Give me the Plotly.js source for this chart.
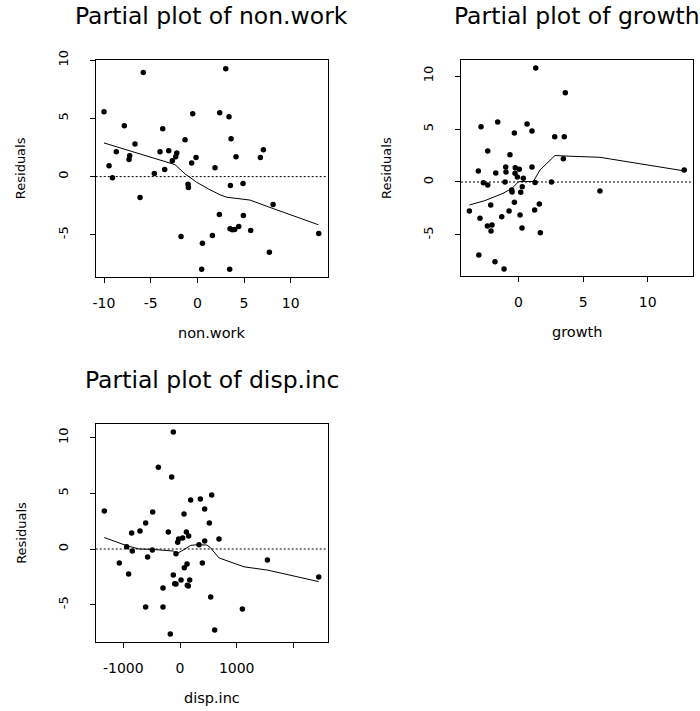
<!DOCTYPE html>
<html>
<head>
<meta charset="utf-8">
<script src="https://cdn.plot.ly/plotly-3.0.1.min.js"></script>
<style>html,body{margin:0;padding:0;background:#fff;}</style>
</head>
<body>
<div id="chart" style="width:700px;height:711px;"></div>
<script>
// ---- Panel 1: non.work ----
const nonworkX = [-10.0,-5.79,3.04,-7.82,-0.5,2.39,3.39,-3.71,-1.32,3.61,-6.68,-8.68,-7.25,-7.32,-4.0,-3.07,-2.21,-2.32,-2.68,-0.14,-0.61,4.14,7.07,6.75,1.89,-9.46,-9.1,-4.61,-3.5,-1.0,-0.96,3.54,4.89,-6.14,8.11,2.36,4.93,3.5,3.75,4.0,4.43,5.71,-1.75,1.61,0.54,13.0,7.71,0.46,3.46];
const nonworkY = [5.57,8.94,9.26,4.37,5.4,5.49,5.14,4.11,3.17,3.26,2.8,2.14,1.8,1.46,2.14,2.23,2.03,1.71,1.37,1.63,1.17,1.71,2.31,1.63,0.77,0.94,-0.09,0.26,0.6,-0.66,-0.94,-0.77,-0.6,-1.8,-2.4,-3.26,-3.34,-4.49,-4.57,-4.54,-4.29,-4.63,-5.14,-5.06,-5.74,-4.89,-6.51,-7.97,-7.97];
const nonworkFitX = [-10,-3.1,-2.4,-1.32,-0.07,1.18,2.43,3.14,4.21,5.64,7.43,12.96];
const nonworkFitY = [2.89,1.23,1.03,0.23,-0.49,-1.06,-1.57,-1.77,-1.85,-2.02,-2.55,-4.14];

// ---- Panel 2: growth ----
const growthX = [1.33,-2.9,-1.61,0.66,1.04,-0.32,2.8,-2.38,-0.66,-3.11,-0.99,-0.25,0.06,1.04,-1.76,-0.97,-0.27,-0.09,0.37,-2.72,-2.38,-1.04,1.28,2.55,0.29,-0.53,-0.5,0.17,-0.32,-2.15,1.61,-3.8,-0.73,1.25,0.12,-1.3,-2.98,-2.41,-2.05,-2.13,0.27,1.69,-3.07,-1.82,-1.12,3.62,3.54,3.47,6.3,12.82];
const growthY = [10.75,5.22,5.66,5.47,4.81,4.62,4.28,2.92,2.58,1.04,1.42,1.35,1.2,1.42,0.85,0.94,0.82,0.47,0.35,-0.08,-0.28,0.0,-0.05,0.0,-0.44,-0.75,-0.94,-0.97,-1.92,-2.17,-2.08,-2.74,-2.74,-2.64,-3.11,-3.27,-3.43,-4.15,-4.06,-4.62,-4.34,-4.78,-6.89,-7.52,-8.21,8.43,4.28,2.2,-0.85,1.13];
const growthFitX = [-3.8,-2.6,-1.2,-0.5,0.0,1.15,1.66,2.82,3.6,6.3,12.8];
const growthFitY = [-2.17,-1.76,-1.07,-0.6,0.03,0.05,1.13,2.5,2.45,2.33,1.05];

// ---- Panel 3: disp.inc ----
const dispincX = [-1335,-118,-382,-147,559,188,359,435,-482,71,-606,518,-706,-853,-206,112,153,47,-24,-41,688,435,335,-941,-841,-488,-71,-571,-1071,124,394,76,-906,-118,-94,-71,18,171,129,147,-300,1541,2447,541,-606,-300,1100,612,-171];
const dispincY = [3.41,10.51,7.34,6.47,4.85,4.4,4.49,3.59,3.32,3.14,2.34,2.34,1.62,1.44,1.53,1.53,1.17,0.99,0.9,0.6,0.9,0.72,0.39,0.21,-0.18,-0.09,-0.42,-0.72,-1.26,-1.35,-1.26,-1.68,-2.25,-2.34,-3.11,-3.14,-2.78,-2.78,-3.26,-3.32,-3.5,-0.99,-2.51,-4.31,-5.21,-5.21,-5.39,-7.28,-7.63];
const dispincFitX = [-1335,-940,-720,-500,-118,-60,30,190,300,470,530,688,1130,1550,2447];
const dispincFitY = [1.03,0.3,0.0,-0.03,-0.18,-0.4,-0.18,0.33,0.38,0.36,0.15,-0.8,-1.6,-1.9,-2.93];

// ---- tick labels ----
const ticksNonworkX = [-10,-5,0,5,10];
const ticksNonworkXText = ['-10','-5','0','5','10'];
const ticksGrowthX = [0,5,10];
const ticksGrowthXText = ['0','5','10'];
const ticksDispincX = [-1000,0,1000,2000];
const ticksDispincXText = ['-1000','0','1000',''];
const ticksResid = [-5,0,5,10];
const ticksResidText = ['-5','0','5','10'];

const titles = ['Partial plot of non.work','Partial plot of growth','Partial plot of disp.inc'];
const xLabels = ['non.work','growth','disp.inc'];
const yLabel = 'Residuals';

const W = 700, H = 711;
const FONT = 'DejaVu Sans, Liberation Sans, Arial, sans-serif';
const px = v => v / W;
const py = v => 1 - v / H;

// plot boxes in pixels [left, right, top, bottom]
const boxes = [
  [95.7, 327.7, 60, 277],
  [461, 693, 60, 276],
  [95.7, 327.7, 424, 642.3]
];

function pts(x, y, xa, ya) {
  return {x: x, y: y, xaxis: xa, yaxis: ya, type: 'scatter', mode: 'markers',
    marker: {symbol: 'circle', size: 5.5, color: '#000', line: {width: 0}}, hoverinfo: 'skip'};
}
function fit(x, y, xa, ya) {
  return {x: x, y: y, xaxis: xa, yaxis: ya, type: 'scatter', mode: 'lines',
    line: {color: '#000', width: 1}, hoverinfo: 'skip'};
}

const data = [
  fit(nonworkFitX, nonworkFitY, 'x', 'y'), pts(nonworkX, nonworkY, 'x', 'y'),
  fit(growthFitX, growthFitY, 'x2', 'y2'), pts(growthX, growthY, 'x2', 'y2'),
  fit(dispincFitX, dispincFitY, 'x3', 'y3'), pts(dispincX, dispincY, 'x3', 'y3')
];

function xax(i, range, tv, tt, anchor) {
  const b = boxes[i];
  return {domain: [px(b[0]), px(b[1])], range: range, anchor: anchor,
    tickmode: 'array', tickvals: tv, ticktext: tt, ticks: 'outside', ticklen: 5, tickwidth: 1, tickcolor: '#000',
    showline: true, mirror: true, linecolor: '#000', linewidth: 1,
    showgrid: false, zeroline: false, fixedrange: true, ticklabelstandoff: 8,
    tickfont: {family: FONT, size: 14, color: '#000'}};
}
function yax(i, range, anchor) {
  const b = boxes[i];
  return {domain: [py(b[3]), py(b[2])], range: range, anchor: anchor,
    tickmode: 'array', tickvals: ticksResid, ticktext: ticksResidText, ticks: 'outside', ticklen: 5, tickwidth: 1, tickcolor: '#000',
    tickangle: -90, showline: true, mirror: true, linecolor: '#000', linewidth: 1,
    showgrid: false, zeroline: false, fixedrange: true, ticklabelstandoff: 17,
    tickfont: {family: FONT, size: 13, color: '#000'}};
}

const annotations = [];
const shapes = [];
const axisIds = [['x','y'],['x2','y2'],['x3','y3']];
boxes.forEach((b, i) => {
  const cx = (b[0] + b[1]) / 2, cy = (b[2] + b[3]) / 2;
  annotations.push({text: titles[i], xref: 'paper', yref: 'paper', x: px(cx), y: py(b[2] - 44),
    xanchor: 'center', yanchor: 'middle', showarrow: false, font: {family: FONT, size: 23.5, color: '#000'}});
  annotations.push({text: xLabels[i], xref: 'paper', yref: 'paper', x: px(cx), y: py(b[3] + 56),
    xanchor: 'center', yanchor: 'middle', showarrow: false, font: {family: FONT, size: 14.5, color: '#000'}});
  annotations.push({text: yLabel, xref: 'paper', yref: 'paper', x: px(b[0] - 75), y: py(cy),
    xanchor: 'center', yanchor: 'middle', textangle: -90, showarrow: false, font: {family: FONT, size: 13, color: '#000'}});
  shapes.push({type: 'line', xref: axisIds[i][0] + ' domain', yref: axisIds[i][1], x0: 0, x1: 1, y0: 0, y1: 0,
    layer: 'below', line: {color: '#000', width: 1, dash: '2px,2px'}});
});

const layout = {
  width: W, height: H, margin: {l: 0, r: 0, t: 0, b: 0},
  paper_bgcolor: '#fff', plot_bgcolor: '#fff', showlegend: false,
  font: {family: FONT, color: '#000'},
  xaxis: xax(0, [-10.89, 13.96], ticksNonworkX, ticksNonworkXText, 'y'),
  yaxis: yax(0, [-8.63, 10.02], 'x'),
  xaxis2: xax(1, [-4.45, 13.5], ticksGrowthX, ticksGrowthXText, 'y2'),
  yaxis2: yax(1, [-8.87, 11.51], 'x2'),
  xaxis3: xax(2, [-1487, 2605], ticksDispincX, ticksDispincXText, 'y3'),
  yaxis3: yax(2, [-8.38, 11.23], 'x3'),
  annotations: annotations,
  shapes: shapes
};

Plotly.newPlot('chart', data, layout, {staticPlot: true, displayModeBar: false});
</script>
</body>
</html>
